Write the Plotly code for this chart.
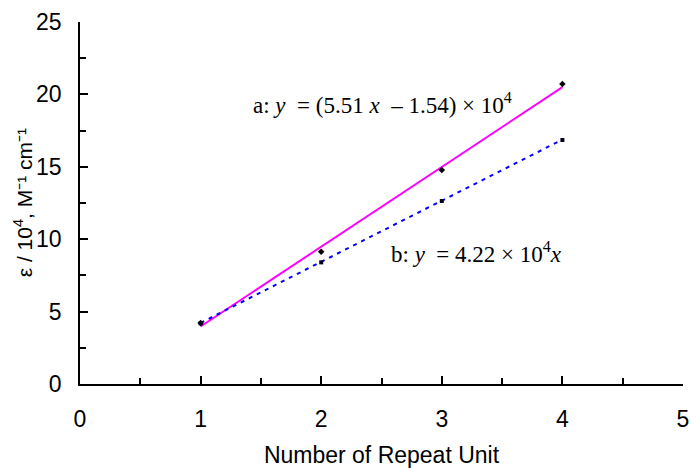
import plotly.graph_objects as go

# Data
repeat_units = [1, 2, 3, 4]
eps_a = [4.22, 9.14, 14.78, 20.72]   # series a (x10^4 M^-1 cm^-1)
eps_b = [4.19, 8.40, 12.64, 16.85]   # series b

fit_x = [1, 4]
fit_a = [3.97, 20.50]   # a: y = (5.51x - 1.54) x 10^4
fit_b = [4.22, 16.88]   # b: y = 4.22 x 10^4 x

label_a = "a: <i>y</i>  = (5.51 <i>x</i>  – 1.54) × 10<sup>4</sup>"
label_b = "b: <i>y</i>  = 4.22 × 10<sup>4</sup><i>x</i>"
y_title = "ε / 10<sup>4</sup>, M⁻¹ cm⁻¹"
x_title = "Number of Repeat Unit"

x_ticks = [0, 1, 2, 3, 4, 5]
y_ticks = [0, 5, 10, 15, 20, 25]

fig = go.Figure()
fig.add_trace(go.Scatter(x=fit_x, y=fit_a, mode="lines",
                         line=dict(color="#FF00FF", width=2), showlegend=False))
fig.add_trace(go.Scatter(x=fit_x, y=fit_b, mode="lines",
                         line=dict(color="#0000FF", width=2, dash="4px,5px"), showlegend=False))
fig.add_trace(go.Scatter(x=repeat_units, y=eps_a, mode="markers",
                         marker=dict(symbol="diamond", size=5, color="black"), showlegend=False))
fig.add_trace(go.Scatter(x=repeat_units, y=eps_b, mode="markers",
                         marker=dict(symbol="square", size=4, color="#000022"), showlegend=False))

serif = dict(family="Liberation Serif, Times New Roman, serif", size=23, color="black")
fig.add_annotation(x=1.42, y=19.4, xref="x", yref="y", text=label_a, showarrow=False,
                   xanchor="left", yanchor="middle", font=serif)
fig.add_annotation(x=2.56, y=9.05, xref="x", yref="y", text=label_b, showarrow=False,
                   xanchor="left", yanchor="middle", font=serif)

tick_font = dict(family="Liberation Sans, Arial, sans-serif", size=23, color="black")
xtitle_font = dict(family="Liberation Sans, Arial, sans-serif", size=23, color="black")
ytitle_font = dict(family="Liberation Sans, Arial, sans-serif", size=21, color="black")

# y-axis title placed as a rotated annotation
fig.add_annotation(x=-0.094, y=0.5, xref="paper", yref="paper", text=y_title,
                   textangle=-90, showarrow=False, xanchor="center", yanchor="middle",
                   font=ytitle_font)

fig.update_xaxes(range=[0, 5], tickvals=x_ticks, ticks="inside", ticklen=8, tickwidth=1.5,
                 tickcolor="black", showline=True, linecolor="black", linewidth=1.5,
                 showgrid=False, zeroline=False, tickfont=tick_font,
                 ticklabelstandoff=14, automargin=False,
                 minor=dict(dtick=0.5, ticks="inside", ticklen=6, tickwidth=1.5, tickcolor="black"),
                 title=dict(text=x_title, font=xtitle_font, standoff=16))
fig.update_yaxes(range=[0, 25], tickvals=y_ticks, ticks="inside", ticklen=8, tickwidth=1.5,
                 tickcolor="black", showline=True, linecolor="black", linewidth=1.5,
                 showgrid=False, zeroline=False, tickfont=tick_font,
                 ticklabelstandoff=12, automargin=False,
                 minor=dict(dtick=2.5, ticks="inside", ticklen=6, tickwidth=1.5, tickcolor="black"))

fig.update_layout(width=691, height=468, margin=dict(l=80, r=8, t=22, b=84),
                  plot_bgcolor="white", paper_bgcolor="white")

fig.write_html("out.html")
